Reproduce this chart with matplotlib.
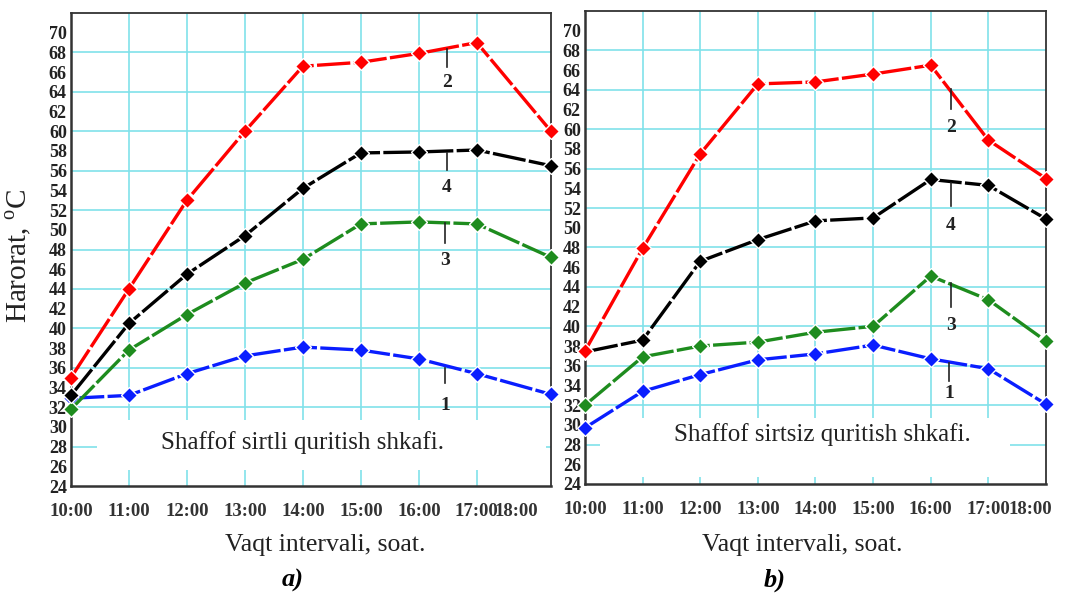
import matplotlib
matplotlib.use("Agg")
import matplotlib.pyplot as plt
from matplotlib.patches import Rectangle

plt.rcParams['font.family'] = ['Liberation Serif', 'DejaVu Serif']
plt.rcParams['mathtext.fontset'] = 'custom'
plt.rcParams['mathtext.rm'] = 'Liberation Serif'

# vaqt (soat) - a) grafikda oxirgi oraliq cho'zilgan
hours_a = [10, 11, 12, 13, 14, 15, 16, 17, 18.28]
hours_b = [10, 11, 12, 13, 14, 15, 16, 17, 18]
time_labels = ['10:00', '11:00', '12:00', '13:00', '14:00', '15:00', '16:00', '17:00', '18:00']

# a) Shaffof sirtli quritish shkafi
a_1 = [32.9, 33.2, 35.4, 37.2, 38.1, 37.8, 36.9, 35.4, 33.3]
a_2 = [35.0, 44.0, 53.0, 60.0, 66.6, 67.0, 67.9, 69.0, 60.0]
a_3 = [31.8, 37.8, 41.4, 44.6, 47.0, 50.6, 50.8, 50.6, 47.2]
a_4 = [33.2, 40.5, 45.5, 49.4, 54.2, 57.8, 57.9, 58.1, 56.5]

# b) Shaffof sirtsiz quritish shkafi
b_1 = [29.7, 33.4, 35.1, 36.6, 37.2, 38.1, 36.7, 35.7, 32.1]
b_2 = [37.5, 47.9, 57.5, 64.6, 64.8, 65.6, 66.5, 58.9, 55.0]
b_3 = [32.0, 36.9, 38.0, 38.4, 39.4, 40.0, 45.1, 42.7, 38.5]
b_4 = [37.4, 38.6, 46.6, 48.8, 50.7, 51.0, 54.9, 54.3, 50.9]

colors = {'1': '#0a1eff', '2': '#ff0000', '3': '#1e8c1e', '4': '#000000'}
grid_c = '#80e2ea'

fig = plt.figure(figsize=(10.72, 5.97), dpi=100)
ax_a = fig.add_axes([0.0662, 0.1859, 0.4478, 0.7923])
ax_b = fig.add_axes([0.5457, 0.1893, 0.4300, 0.7923])


def draw_panel(ax, x, series, xmax, last_label_pos, title, box, title_pos, marks):
    ax.set_xlim(10, xmax)
    ax.set_ylim(24, 72)
    # setka
    for h in range(11, 18):
        ax.axvline(h, color=grid_c, lw=1.2, zorder=0.5)
    for v in range(28, 69, 4):
        ax.axhline(v, color=grid_c, lw=1.2, zorder=0.5)
    ax.add_patch(Rectangle((box[0], box[1]), box[2], box[3], transform=ax.transAxes,
                           facecolor='white', edgecolor='none', zorder=1))
    for key in ['1', '3', '4', '2']:
        ax.plot(x, series[key], color=colors[key], lw=2.4, dashes=(10, 1.0),
                marker='D', ms=8, mec='white', mew=1.0, clip_on=False, zorder=3)
    ax.set_yticks(range(24, 71, 2))
    ax.set_yticklabels([str(v) for v in range(24, 71, 2)], fontsize=13, fontweight='bold',
                       color='#222222')
    ax.set_xticks(list(range(10, 18)) + [last_label_pos])
    ax.set_xticklabels(time_labels, fontsize=13.5, fontweight='bold', color='#333333')
    ax.tick_params(axis='both', length=0)
    ax.tick_params(axis='y', pad=3)
    ax.tick_params(axis='x', pad=12)
    for s in ax.spines.values():
        s.set_color('#333333')
        s.set_linewidth(1.3)
    ax.spines['left'].set_linewidth(1.8)
    ax.spines['bottom'].set_linewidth(1.8)
    ax.text(title_pos[0], title_pos[1], title, transform=ax.transAxes, fontsize=18,
            ha='center', va='center', color='#222222', zorder=4)
    for lab, (xm, y0, y1, yt) in marks.items():
        ax.plot([xm, xm], [y0, y1], color='#222222', lw=1.2, zorder=4)
        ax.text(xm, yt, lab, fontsize=14, fontweight='bold', ha='center', va='center',
                color='#222222', zorder=4)


draw_panel(ax_a, hours_a, {'1': a_1, '2': a_2, '3': a_3, '4': a_4}, 18.28, 17.68,
           'Shaffof sirtli quritish shkafi.', (0.054, 0.034, 0.936, 0.106), (0.483, 0.091),
           {'2': (16.48, 68.3, 66.5, 64.9), '4': (16.48, 57.8, 56.1, 54.3),
            '3': (16.45, 50.7, 48.7, 46.9), '1': (16.45, 36.0, 34.5, 32.2)})
draw_panel(ax_b, hours_b, {'1': b_1, '2': b_2, '3': b_3, '4': b_4}, 18, 17.73,
           'Shaffof sirtsiz quritish shkafi.', (0.033, 0.015, 0.89, 0.125), (0.514, 0.104),
           {'2': (16.35, 64.1, 62.1, 60.2), '4': (16.35, 54.5, 52.2, 50.2),
            '3': (16.35, 44.4, 42.0, 40.1), '1': (16.32, 36.3, 34.5, 33.2)})

fig.text(0.017, 0.571, 'Harorat, $^{\\mathregular{o}}$C', rotation=90, fontsize=21,
         ha='center', va='center', color='#222222')
fig.text(0.303, 0.087, 'Vaqt intervali, soat.', fontsize=18.5, ha='center', va='center',
         color='#222222')
fig.text(0.748, 0.087, 'Vaqt intervali, soat.', fontsize=18.5, ha='center', va='center',
         color='#222222')
fig.text(0.273, 0.028, 'a)', fontsize=19, fontweight='bold', style='italic', ha='center', va='center')
fig.text(0.723, 0.028, 'b)', fontsize=19, fontweight='bold', style='italic', ha='center', va='center')

fig.savefig('out.png', dpi=100)
